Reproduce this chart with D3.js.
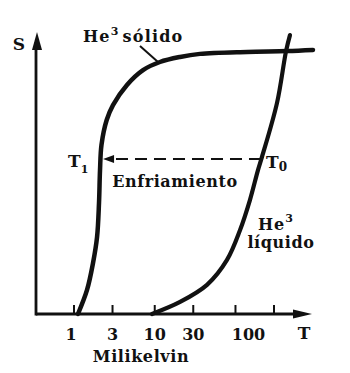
<!DOCTYPE html>
<html>
<head>
<meta charset="utf-8">
<script src="https://cdn.jsdelivr.net/npm/d3@7"></script>
<style>
    html, body { margin: 0; padding: 0; background: #fff; }
    svg text { font-family: "DejaVu Serif", serif; font-weight: bold; fill: #111; }
</style>
</head>
<body>
<div id="chart"></div>
<script>
// 数据：温度 T (mK) 与熵 S (任意单位)
const tickValues = [1, 3, 10, 30, 100, 300];
const tickLabels = ['1', '3', '10', '30', '100', ''];

const solidT = [1.12, 1.45, 1.72, 1.93, 2.04, 2.10, 2.19, 2.54, 3.04, 4.53, 7.16, 11.6, 20.6, 36.4, 139, 435, 912];
const solidS = [0, 0.086, 0.182, 0.275, 0.396, 0.514, 0.604, 0.693, 0.746, 0.818, 0.871, 0.900, 0.918, 0.929, 0.936, 0.939, 0.943];

const liquidT = [9.25, 20.6, 44.4, 78.5, 114, 151, 190, 213, 327, 423, 473];
const liquidS = [0, 0.043, 0.104, 0.193, 0.300, 0.407, 0.514, 0.561, 0.754, 0.939, 0.996];

// 冷却箭头：从 T0 到 T1
const coolingT = [207, 2.29];
const coolingS = 0.554;

const width = 350;
const height = 373;
const axisLeft = 36;
const axisRight = 312;
const axisBottom = 314;
const axisTop = 32;

const svg = d3.select('#chart')
    .append('svg')
    .attr('width', width)
    .attr('height', height);

// 比例尺
const x = d3.scaleLog().domain([1, 300]).range([74, 274]);
const y = d3.scaleLinear().domain([0, 1]).range([axisBottom, 34]);

// 坐标轴
svg.append('line')
    .attr('x1', axisLeft).attr('y1', axisBottom)
    .attr('x2', axisRight - 10).attr('y2', axisBottom)
    .attr('stroke', '#111').attr('stroke-width', 2.8);
svg.append('path')
    .attr('d', `M${axisRight},${axisBottom} L${axisRight - 19},${axisBottom - 4.5} L${axisRight - 19},${axisBottom + 4.5} Z`)
    .attr('fill', '#111');

svg.append('line')
    .attr('x1', axisLeft).attr('y1', axisBottom + 1.4)
    .attr('x2', axisLeft).attr('y2', axisTop + 10)
    .attr('stroke', '#111').attr('stroke-width', 2.8);
svg.append('path')
    .attr('d', `M${axisLeft + 1},${axisTop} L${axisLeft - 4},${axisTop + 18} L${axisLeft + 6},${axisTop + 18} Z`)
    .attr('fill', '#111');

// 刻度
svg.selectAll('line.tick')
    .data(tickValues)
    .enter()
    .append('line')
    .attr('class', 'tick')
    .attr('x1', d => x(d)).attr('x2', d => x(d))
    .attr('y1', axisBottom).attr('y2', axisBottom - 9)
    .attr('stroke', '#111').attr('stroke-width', 2);

// 原图中 "1" 略偏左, "100" 偏右
svg.selectAll('text.tick-label')
    .data(tickValues)
    .enter()
    .append('text')
    .attr('class', 'tick-label')
    .attr('x', d => x(d) + (d === 100 ? 13 : d === 1 ? -3 : 0))
    .attr('y', 340)
    .attr('text-anchor', 'middle')
    .style('font-size', '16px')
    .text((d, i) => tickLabels[i]);

svg.append('text')
    .attr('x', 304).attr('y', 339)
    .attr('text-anchor', 'middle')
    .style('font-size', '17px')
    .text('T');

svg.append('text')
    .attr('x', 141).attr('y', 362)
    .attr('text-anchor', 'middle')
    .style('font-size', '16px')
    .style('letter-spacing', '0.6px')
    .text('Milikelvin');

svg.append('text')
    .attr('x', 19).attr('y', 50)
    .attr('text-anchor', 'middle')
    .style('font-size', '17px')
    .text('S');

// 曲线
const line = d3.line()
    .x(d => x(d[0]))
    .y(d => y(d[1]))
    .curve(d3.curveCatmullRom.alpha(0.5));

svg.append('path')
    .datum(solidT.map((t, i) => [t, solidS[i]]))
    .attr('d', line)
    .attr('fill', 'none')
    .attr('stroke', '#111')
    .attr('stroke-width', 4.5)
    .attr('stroke-linecap', 'round');

svg.append('path')
    .datum(liquidT.map((t, i) => [t, liquidS[i]]))
    .attr('d', line)
    .attr('fill', 'none')
    .attr('stroke', '#111')
    .attr('stroke-width', 4.2)
    .attr('stroke-linecap', 'round');

// 冷却虚线箭头
const x0 = x(coolingT[0]);
const x1 = x(coolingT[1]);
const yc = y(coolingS);
svg.append('line')
    .attr('x1', x0).attr('y1', yc)
    .attr('x2', x1 + 8).attr('y2', yc)
    .attr('stroke', '#111')
    .attr('stroke-width', 2)
    .attr('stroke-dasharray', '12,7');
svg.append('path')
    .attr('d', `M${x1},${yc} L${x1 + 11},${yc - 4} L${x1 + 11},${yc + 4} Z`)
    .attr('fill', '#111');

// 标注
const solidLabel = svg.append('text')
    .attr('x', 83).attr('y', 42)
    .style('font-size', '16px')
    .style('letter-spacing', '1.2px');
solidLabel.append('tspan').text('He');
solidLabel.append('tspan').attr('dy', -7).style('font-size', '11px').text('3');
solidLabel.append('tspan').attr('dy', 7).attr('dx', 3).text('sólido');

svg.append('line')
    .attr('x1', 140).attr('y1', 46)
    .attr('x2', 158).attr('y2', 62)
    .attr('stroke', '#111').attr('stroke-width', 2);

const t1 = svg.append('text')
    .attr('x', 68).attr('y', 167)
    .style('font-size', '17px');
t1.append('tspan').text('T');
t1.append('tspan').attr('dy', 6).style('font-size', '11px').text('1');

const t0 = svg.append('text')
    .attr('x', 266).attr('y', 168)
    .style('font-size', '17px');
t0.append('tspan').text('T');
t0.append('tspan').attr('dy', 3).style('font-size', '12px').text('0');

svg.append('text')
    .attr('x', 175).attr('y', 187)
    .attr('text-anchor', 'middle')
    .style('font-size', '16px')
    .style('letter-spacing', '0.6px')
    .text('Enfriamiento');

const liquidLabel = svg.append('text')
    .attr('x', 258).attr('y', 230)
    .style('font-size', '16px')
    .style('letter-spacing', '1px');
liquidLabel.append('tspan').text('He');
liquidLabel.append('tspan').attr('dy', -8).style('font-size', '11px').text('3');

svg.append('text')
    .attr('x', 281).attr('y', 248)
    .attr('text-anchor', 'middle')
    .style('font-size', '16px')
    .style('letter-spacing', '0.6px')
    .text('líquido');
</script>
</body>
</html>
